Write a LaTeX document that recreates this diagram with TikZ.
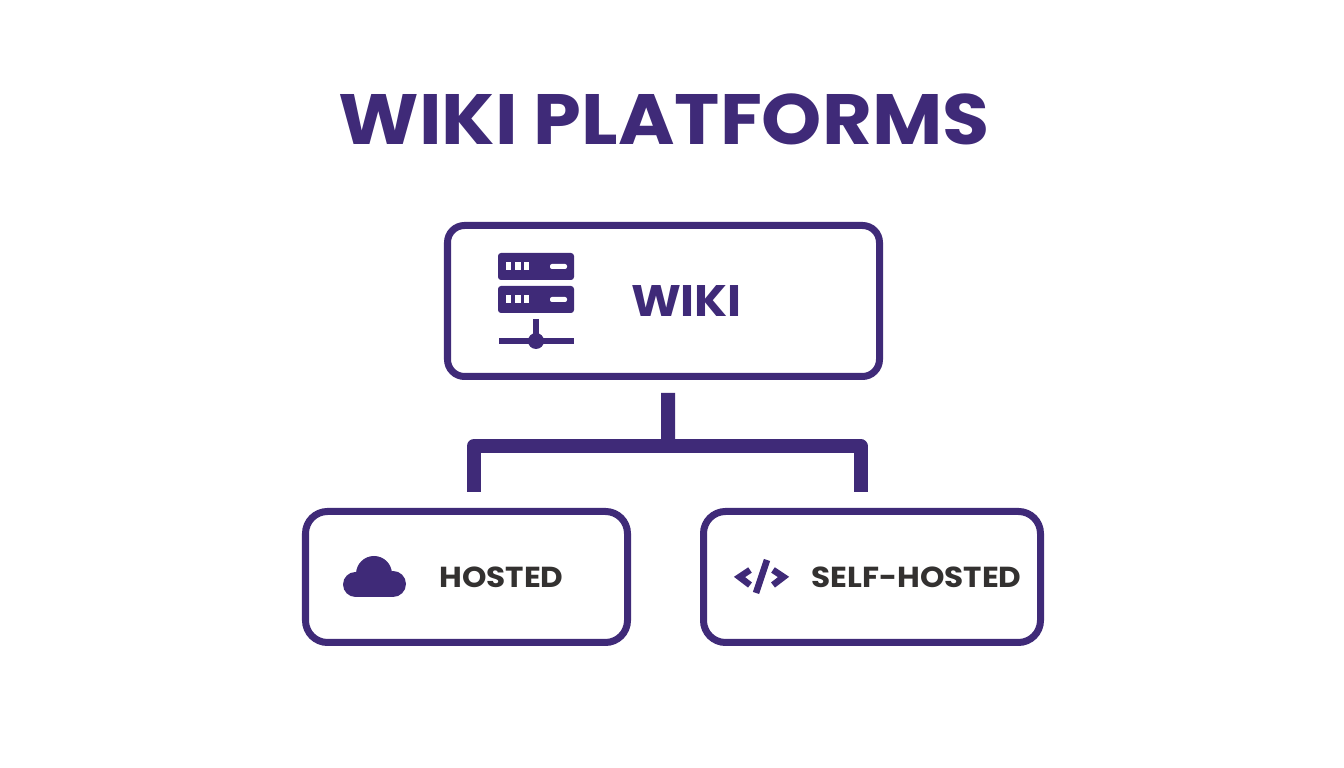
\documentclass[tikz,border=0pt]{standalone}
\usepackage{fontspec}
\setmainfont{Poppins}
\definecolor{wikipurple}{HTML}{3F2A78}
\definecolor{labelgray}{HTML}{333130}
\tikzset{
    platformbox/.style={draw=wikipurple, line width=0.07cm, rounded corners=0.22cm, inner sep=0pt},
    busline/.style={draw=wikipurple, line width=0.14cm, line join=round},
    iconline/.style={draw=wikipurple, line width=0.065cm},
    leaflabel/.style={text=labelgray, font=\bfseries\fontsize{8.85}{9}\selectfont, inner sep=0pt, yscale=0.93, transform shape}
}

\begin{document}
\begin{tikzpicture}
    \useasboundingbox (0,0) rectangle (13.44,7.68);

    % Title
    \node[text=wikipurple, font=\bfseries\fontsize{21.8}{22}\selectfont, inner sep=0pt, yscale=0.93, transform shape] (title) at (6.64,6.49) {WIKI PLATFORMS};

    % The three boxes
    \node[platformbox, rounded corners=0.17cm, minimum width=4.32cm, minimum height=1.51cm] (wiki) at (6.635,4.67) {};
    \node[platformbox, minimum width=3.22cm, minimum height=1.31cm] (hosted) at (4.665,1.91) {};
    \node[platformbox, minimum width=3.37cm, minimum height=1.31cm] (selfhosted) at (8.72,1.91) {};

    % Labels inside the boxes
    \node[text=wikipurple, font=\bfseries\fontsize{13.5}{14}\selectfont, inner sep=0pt, yscale=0.93, transform shape] (wikilabel) at (6.865,4.67) {WIKI};
    \node[leaflabel] (hostedlabel) at (5.015,1.91) {HOSTED};
    \node[leaflabel] (selfhostedlabel) at (9.165,1.91) {SELF-HOSTED};

    % Connectors, with a gap at each box
    \coordinate (bar) at (6.68,3.22);
    \draw[busline, shorten <=0.13cm] ([xshift=0.045cm]wiki.south) -- (bar);
    \draw[busline, shorten <=0.16cm, shorten >=0.16cm] ([xshift=0.075cm]hosted.north) |- (bar) -| ([xshift=-0.115cm]selfhosted.north);

    % Server icon
    \foreach \y in {0,-0.33} {
        \fill[wikipurple, rounded corners=0.03cm] (4.98,4.88+\y) rectangle (5.74,5.15+\y);
        \fill[white] (5.06,4.98+\y) rectangle (5.11,5.06+\y);
        \fill[white] (5.15,4.98+\y) rectangle (5.21,5.06+\y);
        \fill[white] (5.24,4.98+\y) rectangle (5.29,5.06+\y);
        \fill[white, rounded corners=0.02cm] (5.50,4.99+\y) rectangle (5.67,5.04+\y);
    }
    \draw[iconline, line width=0.06cm] (5.36,4.49) -- (5.36,4.27);
    \draw[iconline, line width=0.06cm] (4.99,4.27) -- (5.74,4.27);
    \fill[wikipurple] (5.36,4.27) circle (0.08);

    % Cloud icon
    \fill[wikipurple] (3.555,1.835) circle (0.125);
    \fill[wikipurple] (3.93,1.84) circle (0.13);
    \fill[wikipurple] (3.74,1.94) circle (0.18);
    \fill[wikipurple] (3.555,1.71) rectangle (3.93,1.95);

    % Code icon
    \draw[iconline] (7.50,1.98) -- (7.395,1.91) -- (7.50,1.83);
    \draw[iconline] (7.67,2.08) -- (7.56,1.75);
    \draw[iconline] (7.73,1.98) -- (7.835,1.91) -- (7.73,1.83);
\end{tikzpicture}
\end{document}
